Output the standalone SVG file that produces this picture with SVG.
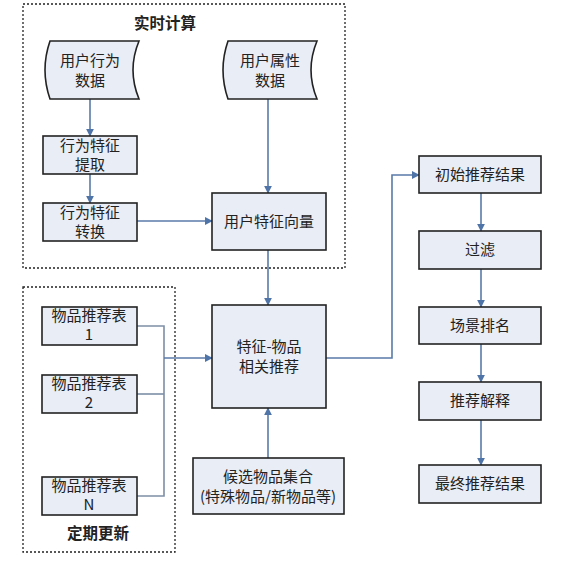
<svg xmlns="http://www.w3.org/2000/svg" width="582" height="565" viewBox="0 0 582 565">
<defs>
<marker id="ah" viewBox="0 0 10 10" refX="9" refY="5" markerWidth="8" markerHeight="8" markerUnits="userSpaceOnUse" orient="auto">
<path d="M0,0 L10,5 L0,10 z" fill="#4f74a8"/>
</marker>
<style>
.box{fill:#e9edf6;stroke:#222;stroke-width:1.6}
.grp{fill:none;stroke:#222;stroke-width:1.3;stroke-dasharray:2,2}
.t{font-family:"Noto Sans CJK SC","Noto Sans",sans-serif;font-size:15px;fill:#222;text-anchor:middle}
.b{font-weight:bold;font-size:15.5px}
.c{fill:none;stroke:#5a7aa8;stroke-width:1.6}
.g{fill:none;stroke:#7d8ea6;stroke-width:1.6}
</style>
</defs>
<rect width="582" height="565" fill="#ffffff"/>

<g id="group-realtime">
<rect class="grp" x="23" y="4" width="322" height="264"/>
<text class="t b" x="165" y="29">实时计算</text>
</g>
<g id="group-periodic">
<rect class="grp" x="23" y="287" width="152" height="265"/>
<text class="t b" x="98" y="539">定期更新</text>
</g>

<g id="connectors">
<line class="c" x1="90" y1="99" x2="90" y2="136" marker-end="url(#ah)"/>
<line class="c" x1="90" y1="174" x2="90" y2="203" marker-end="url(#ah)"/>
<line class="c" x1="137" y1="221" x2="212" y2="221" marker-end="url(#ah)"/>
<line class="c" x1="268" y1="99" x2="268" y2="193" marker-end="url(#ah)"/>
<line class="c" x1="268" y1="250" x2="268" y2="305" marker-end="url(#ah)"/>
<line class="c" x1="268" y1="458" x2="268" y2="408" marker-end="url(#ah)"/>
<polyline class="g" points="137,326 164,326 164,496 137,496"/>
<line class="g" x1="137" y1="394" x2="164" y2="394"/>
<line class="c" x1="164" y1="358" x2="212" y2="358" marker-end="url(#ah)"/>
<polyline class="c" points="326,358 392,358 392,175 419,175" marker-end="url(#ah)"/>
<line class="c" x1="481" y1="193" x2="481" y2="231" marker-end="url(#ah)"/>
<line class="c" x1="481" y1="269" x2="481" y2="307" marker-end="url(#ah)"/>
<line class="c" x1="481" y1="344" x2="481" y2="382" marker-end="url(#ah)"/>
<line class="c" x1="481" y1="420" x2="481" y2="465" marker-end="url(#ah)"/>
</g>

<g id="n-user-behavior">
<path class="box" d="M50,41 L139,41 Q127,70 139,99 L50,99 Q40,70 50,41 z"/>
<text class="t" x="90" y="66">用户行为</text>
<text class="t" x="90" y="86">数据</text>
</g>
<g id="n-user-attr">
<path class="box" d="M228,41 L317,41 Q305,70 317,99 L228,99 Q218,70 228,41 z"/>
<text class="t" x="270" y="66">用户属性</text>
<text class="t" x="270" y="86">数据</text>
</g>
<g id="n-extract">
<rect class="box" x="43" y="136" width="94" height="38"/>
<text class="t" x="90" y="151">行为特征</text>
<text class="t" x="90" y="170">提取</text>
</g>
<g id="n-transform">
<rect class="box" x="43" y="203" width="94" height="38"/>
<text class="t" x="90" y="218">行为特征</text>
<text class="t" x="90" y="237">转换</text>
</g>
<g id="n-user-vector">
<rect class="box" x="212" y="193" width="114" height="57"/>
<text class="t" x="269" y="227">用户特征向量</text>
</g>
<g id="n-table1">
<rect class="box" x="42" y="307" width="95" height="38"/>
<text class="t" x="89" y="321">物品推荐表</text>
<text class="t" x="89" y="340">1</text>
</g>
<g id="n-table2">
<rect class="box" x="42" y="375" width="95" height="38"/>
<text class="t" x="89" y="389">物品推荐表</text>
<text class="t" x="89" y="408">2</text>
</g>
<g id="n-tableN">
<rect class="box" x="42" y="477" width="95" height="38"/>
<text class="t" x="89" y="491">物品推荐表</text>
<text class="t" x="89" y="510">N</text>
</g>
<g id="n-feature-item">
<rect class="box" x="212" y="305" width="114" height="103"/>
<text class="t" x="269" y="352">特征-物品</text>
<text class="t" x="269" y="372">相关推荐</text>
</g>
<g id="n-candidates">
<rect class="box" x="193" y="458" width="151" height="56"/>
<text class="t" x="268" y="482">候选物品集合</text>
<text class="t" x="268" y="502">(特殊物品/新物品等)</text>
</g>
<g id="n-initial">
<rect class="box" x="419" y="156" width="122" height="37"/>
<text class="t" x="480" y="180">初始推荐结果</text>
</g>
<g id="n-filter">
<rect class="box" x="419" y="231" width="122" height="38"/>
<text class="t" x="480" y="255">过滤</text>
</g>
<g id="n-rank">
<rect class="box" x="419" y="307" width="122" height="37"/>
<text class="t" x="480" y="331">场景排名</text>
</g>
<g id="n-explain">
<rect class="box" x="419" y="382" width="122" height="38"/>
<text class="t" x="480" y="406">推荐解释</text>
</g>
<g id="n-final">
<rect class="box" x="419" y="465" width="122" height="38"/>
<text class="t" x="480" y="489">最终推荐结果</text>
</g>
</svg>
